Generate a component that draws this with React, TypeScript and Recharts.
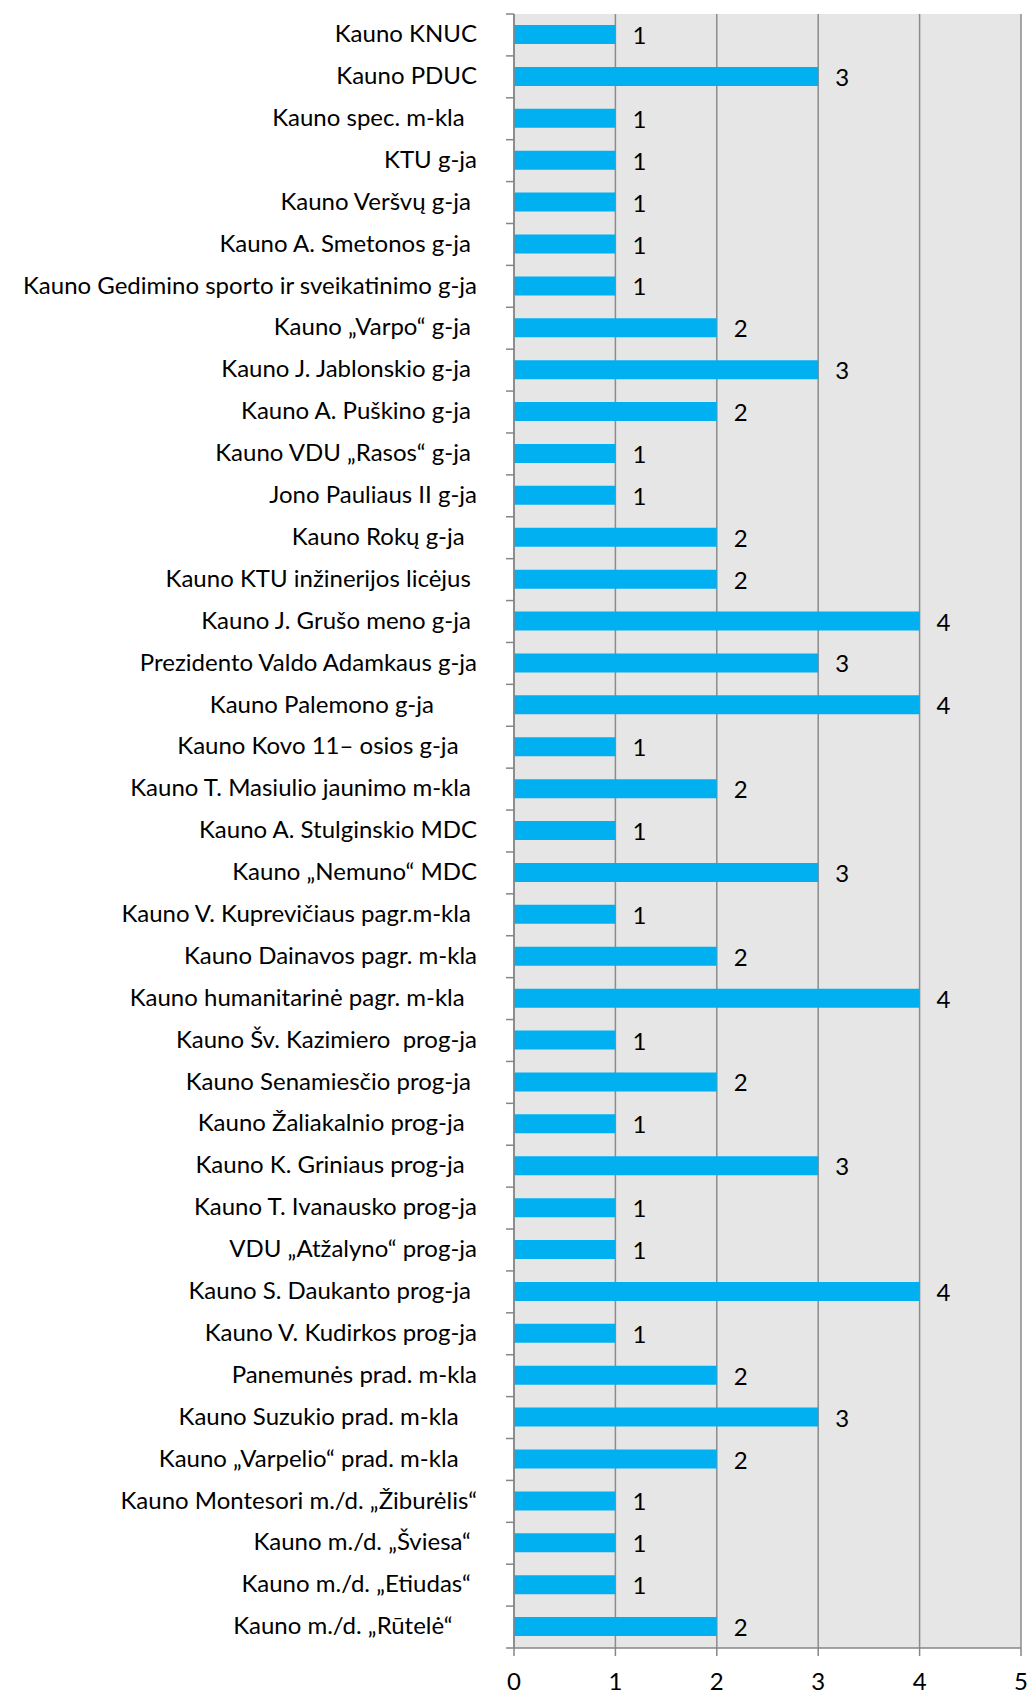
import { BarChart, Bar, XAxis, YAxis, CartesianGrid, LabelList } from 'recharts';

// category labels keep the trailing spaces the source sheet had
const schools = [
    'Kauno KNUC',
    'Kauno PDUC',
    'Kauno spec. m-kla  ',
    'KTU g-ja',
    'Kauno Veršvų g-ja ',
    'Kauno A. Smetonos g-ja ',
    'Kauno Gedimino sporto ir sveikatinimo g-ja',
    'Kauno „Varpo“ g-ja ',
    'Kauno J. Jablonskio g-ja ',
    'Kauno A. Puškino g-ja ',
    'Kauno VDU „Rasos“ g-ja ',
    'Jono Pauliaus II g-ja',
    'Kauno Rokų g-ja  ',
    'Kauno KTU inžinerijos licėjus ',
    'Kauno J. Grušo meno g-ja ',
    'Prezidento Valdo Adamkaus g-ja',
    'Kauno Palemono g-ja       ',
    'Kauno Kovo 11– osios g-ja   ',
    'Kauno T. Masiulio jaunimo m-kla ',
    'Kauno A. Stulginskio MDC',
    'Kauno „Nemuno“ MDC',
    'Kauno V. Kuprevičiaus pagr.m-kla ',
    'Kauno Dainavos pagr. m-kla',
    'Kauno humanitarinė pagr. m-kla  ',
    'Kauno Šv. Kazimiero  prog-ja',
    'Kauno Senamiesčio prog-ja ',
    'Kauno Žaliakalnio prog-ja  ',
    'Kauno K. Griniaus prog-ja  ',
    'Kauno T. Ivanausko prog-ja',
    'VDU „Atžalyno“ prog-ja',
    'Kauno S. Daukanto prog-ja ',
    'Kauno V. Kudirkos prog-ja',
    'Panemunės prad. m-kla',
    'Kauno Suzukio prad. m-kla   ',
    'Kauno „Varpelio“ prad. m-kla   ',
    'Kauno Montesori m./d. „Žiburėlis“',
    'Kauno m./d. „Šviesa“ ',
    'Kauno m./d. „Etiudas“ ',
    'Kauno m./d. „Rūtelė“    ',
];

const counts = [1, 3, 1, 1, 1, 1, 1, 2, 3, 2, 1, 1, 2, 2, 4, 3, 4, 1, 2, 1, 3, 1, 2, 4, 1, 2, 1, 3, 1, 1, 4, 1, 2, 3, 2, 1, 1, 1, 2];

const xTicks = [0, 1, 2, 3, 4, 5];

const data = schools.map((name, i) => ({ name, value: counts[i] }));

const W = 1032;
const H = 1694;
const M = { top: 14, right: 11, bottom: 0, left: 0 };
const AXIS_W = 514;
const XAXIS_H = 46;
const BAND = (H - M.top - XAXIS_H) / schools.length;
const FONT = 'Lato, "Open Sans", sans-serif';
const FS = 24;

const CategoryTick = (props: any) => {
    const { x, y, payload, index } = props;
    const left = AXIS_W;
    return (
        <g>
            <line x1={left - 8} x2={left} y1={y - BAND / 2} y2={y - BAND / 2} stroke="#868686" strokeWidth={1.5} />
            {index === schools.length - 1 && (
                <line x1={left - 8} x2={left} y1={y + BAND / 2} y2={y + BAND / 2} stroke="#868686" strokeWidth={1.5} />
            )}
            <text
                x={x}
                y={y}
                dy="0.3em"
                textAnchor="end"
                fill="#000"
                fontSize={FS}
                fontFamily={FONT}
                style={{ whiteSpace: 'pre' }}
            >
                {payload.value}
            </text>
        </g>
    );
};

export default function App() {
    return (
        <div style={{ position: 'absolute', left: 0, top: 0, background: '#fff' }}>
            <BarChart width={W} height={H} data={data} layout="vertical" margin={M} barSize={19}>
                <CartesianGrid horizontal={false} stroke="#8c8c8c" strokeWidth={1.5} fill="#e6e6e6" />
                <XAxis
                    type="number"
                    domain={[0, 5]}
                    ticks={xTicks}
                    interval={0}
                    stroke="#868686"
                    strokeWidth={1.5}
                    tickSize={8}
                    tickMargin={17}
                    height={XAXIS_H}
                    tick={{ fill: '#000', fontSize: FS, fontFamily: FONT }}
                />
                <YAxis
                    type="category"
                    dataKey="name"
                    width={AXIS_W}
                    interval={0}
                    stroke="#868686"
                    strokeWidth={1.5}
                    tickLine={false}
                    tickSize={8}
                    tickMargin={29}
                    tick={<CategoryTick />}
                />
                <Bar dataKey="value" fill="#00b0f0" isAnimationActive={false}>
                    <LabelList
                        dataKey="value"
                        position="right"
                        offset={17}
                        fill="#000"
                        fontSize={FS}
                        fontFamily={FONT}
                        dy={1}
                    />
                </Bar>
            </BarChart>
        </div>
    );
}
